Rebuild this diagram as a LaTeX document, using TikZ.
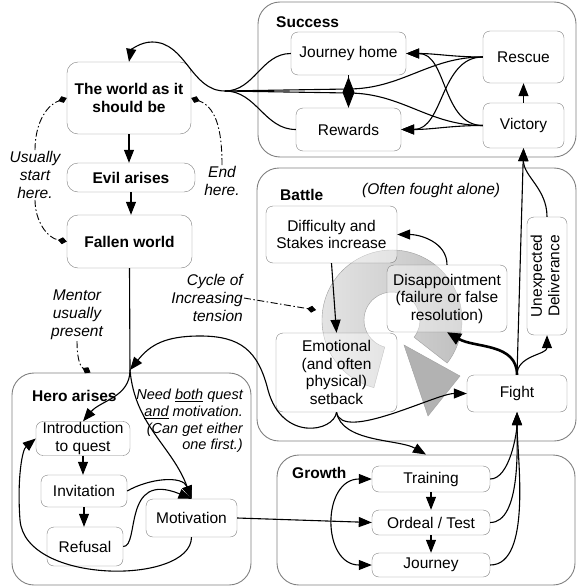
\documentclass[tikz,border=0pt]{standalone}
\usepackage{fontspec}
\setmainfont{Liberation Sans}
\usetikzlibrary{arrows.meta}

\begin{document}
\begin{tikzpicture}[x=1pt, y=1pt,
  box/.style={draw=gray, rounded corners=7pt, fill=white, fill opacity=0.4, text opacity=1, align=center, inner sep=1pt, font=\fontsize{15.5}{17.5}\selectfont},
  keybox/.style={box, rounded corners=11pt, font=\fontsize{15.5}{17.5}\selectfont\bfseries},
  group/.style={draw=gray, rounded corners=22pt, line width=0.9pt},
  grouptitle/.style={anchor=west, inner sep=0pt, font=\fontsize{15.5}{17.5}\selectfont\bfseries},
  note/.style={align=center, inner sep=1pt, font=\fontsize{15.5}{18}\selectfont\itshape},
  plain/.style={line width=1.1pt},
  link/.style={plain, -{Triangle[length=13pt,width=10pt]}},
  twoway/.style={plain, {Triangle[length=13pt,width=10pt]}-{Triangle[length=13pt,width=10pt]}},
  hint/.style={line width=0.9pt, dash pattern=on 7pt off 2.5pt on 1.5pt off 2.5pt, -{Diamond[length=9pt,width=7pt]}}
]

\useasboundingbox (0,0) rectangle (577,-586);

% Groups
\node[group, minimum width=318pt, minimum height=155pt] (success) at (417,-79.5) {};
\node[group, minimum width=319pt, minimum height=273pt] (battle) at (416.5,-304.5) {};
\node[group, minimum width=239pt, minimum height=212pt] (hero) at (131.5,-479) {};
\node[group, minimum width=298pt, minimum height=130pt] (growth) at (426,-520) {};

\node[grouptitle] (successtitle) at (276,-22) {Success};
\node[grouptitle] (battletitle) at (280,-195) {Battle};
\node[note, anchor=west, inner sep=0pt] (alone) at (362,-190) {(Often fought alone)};
\node[grouptitle] (herotitle) at (32,-396) {Hero arises};
\node[grouptitle] (growthtitle) at (292,-473) {Growth};

% Cycle arrow
\coordinate (ringc) at (392,-320);
\shade[left color=gray!20, right color=gray!50, draw=gray!75] ([shift={(255:70)}]ringc) arc[start angle=255, end angle=-38, radius=70]
  -- ([shift={(-38:28)}]ringc) arc[start angle=-38, end angle=255, radius=28] -- cycle;
\fill[gray!60, draw=gray!75] (404,-345) -- (460,-376) -- (428,-416) -- cycle;

% Top
\node[keybox, minimum width=124pt, minimum height=72pt] (world) at (129,-98) {The world as it\\should be};
\node[keybox, minimum width=128pt, minimum height=29pt] (evil) at (131,-177.5) {Evil arises};
\node[keybox, minimum width=125pt, minimum height=53pt] (fallen) at (129.5,-241.5) {Fallen world};

% Success
\node[box, minimum width=115pt, minimum height=43pt] (jhome) at (348.5,-53.5) {Journey home};
\node[box, minimum width=105pt, minimum height=43pt] (rewards) at (348.5,-129.5) {Rewards};
\node[box, minimum width=81pt, minimum height=52pt] (rescue) at (523.5,-57) {Rescue};
\node[box, minimum width=81pt, minimum height=45pt] (victory) at (523.5,-125.5) {Victory};

% Battle
\node[box, minimum width=131pt, minimum height=57pt] (difficulty) at (331.5,-234.5) {Difficulty and\\Stakes increase};
\node[box, minimum width=120pt, minimum height=67pt] (disappoint) at (447,-298.5) {Disappointment\\(failure or false\\resolution)};
\node[box, minimum width=121pt, minimum height=79pt] (setback) at (336.5,-372.5) {Emotional\\(and often\\physical)\\setback};
\node[box, minimum width=100pt, minimum height=37pt] (fight) at (517,-393.5) {Fight};
\node[box, minimum width=40pt, minimum height=118pt] (deliver) at (547,-276) {\rotatebox{90}{\begin{tabular}{@{}c@{}}Unexpected\\Deliverance\end{tabular}}};

% Hero arises
\node[box, minimum width=94pt, minimum height=33pt] (intro) at (83,-438.5) {Introduction\\to quest};
\node[box, minimum width=86pt, minimum height=32pt] (invite) at (84,-491) {Invitation};
\node[box, minimum width=76pt, minimum height=39pt] (refusal) at (85,-546.5) {Refusal};
\node[box, minimum width=91pt, minimum height=38pt] (motiv) at (191.5,-518) {Motivation};

% Growth
\node[box, minimum width=118pt, minimum height=26pt] (training) at (431,-479) {Training};
\node[box, minimum width=118pt, minimum height=25pt] (ordeal) at (431,-522.5) {Ordeal / Test};
\node[box, minimum width=118pt, minimum height=24pt] (journey) at (431,-565) {Journey};

% Notes
\node[note] (start) at (35,-175) {Usually\\start\\here.};
\node[note] (endl) at (222,-181) {End\\here.};
\node[note, align=right, anchor=east] (cycle) at (244,-298) {Cycle of\\Increasing\\tension};
\node[note] (mentor) at (77,-315) {Mentor\\usually\\present};
\node[note, align=right, anchor=east, font=\fontsize{14.5}{16.8}\selectfont\itshape] (need) at (244,-421)
  {Need \underline{both} quest\\\underline{and} motivation.\\(Can get either\\one first.)};

\coordinate (merge) at (225,-91);
\coordinate (split) at (130,-370);
\coordinate (ringpt) at (316,-310);

% Top links
\draw[link] (world.south) -- (world.south |- evil.north);
\draw[link] (evil.south) -- (evil.south |- fallen.north);
\draw[plain] (fallen.south) -- (split);

% Success links
\draw[link] (victory) -- (rescue);
\draw[link] (rescue.west) to[out=180,in=0] (jhome.east);
\draw[link] (rescue.west) to[out=180,in=0] (rewards.east);
\draw[link] (victory.west) to[out=180,in=0] (rewards.east);
\draw[link] (victory.west) to[out=180,in=0] (jhome.east);
\draw[plain] (rescue.west) to[out=180,in=0] (348,-89) -- (merge);
\draw[plain] (victory.west) to[out=180,in=0] (348,-93) -- (merge);
\draw[plain] (jhome.west) to[out=180,in=0] (merge);
\draw[plain] (rewards.west) to[out=180,in=0] (merge);
\draw[link] (merge) to[out=180,in=0] (152,-42) to[out=180,in=80] (world.north);
\draw[line width=1pt, -{Diamond[length=31pt,width=12pt]}] (jhome.south) -- (rewards.north);

% Battle links
\draw[link] (fight.north) -- (victory.south);
\draw[link] (deliver.north) to[out=90,in=-90] (victory.south);
\draw[link] (fight.north) to[out=90,in=-90] (deliver.south);
\draw[line width=2.6pt, -{Triangle[length=14pt,width=12pt]}] (fight.north) to[out=90,in=-30] (disappoint.south);
\draw[link] (disappoint.north) to[out=90,in=0] (difficulty.east);
\draw[link] (difficulty.south) -- (setback.north);
\draw[link] (setback.south) to[out=-80,in=180,looseness=0.6] (fight.west);
\draw[link] (setback.south) to[out=-80,in=150,looseness=0.8] (growth.north);
\draw[link] (setback.south) .. controls (334,-432) and (282,-442) .. (268,-390)
  .. controls (258,-350) and (240,-336) .. (200,-336) .. controls (165,-336) and (150,-345) .. (split);

% Hero links
\draw[link] (split) to[out=-90,in=50] (intro.north);
\draw[link] (split) to[out=-85,in=110] (motiv.north);
\draw[link] (intro.south) -- (intro.south |- invite.north);
\draw[link] (invite.south) -- (invite.south |- refusal.north);
\draw[link] (invite.east) to[out=30,in=110] (motiv.north);
\draw[link] (refusal.east) .. controls (140,-547) and (122,-470) .. (motiv.north);
\draw[link] (motiv.south) .. controls (191,-585) and (25,-585) .. (20,-520) .. controls (17,-480) and (22,-450) .. (intro.west);
\draw[link] (motiv.east) -- (ordeal.west);

% Growth links
\draw[link] (training) -- (ordeal);
\draw[link] (ordeal) -- (journey);
\draw[twoway] (training.west) to[out=180,in=180,looseness=1.5] (journey.west);
\draw[link] (training.east) to[out=0,in=-90,looseness=0.7] (fight.south);
\draw[link] (ordeal.east) to[out=0,in=-90,looseness=0.7] (fight.south);
\draw[link] (journey.east) to[out=0,in=-90,looseness=0.7] (fight.south);

% Notes links
\draw[hint] (start.north) to[out=90,in=200] (world.west);
\draw[hint] (start.south) to[out=-90,in=170] (fallen.west);
\draw[hint] (endl.north) to[out=90,in=-20] (world.east);
\draw[hint] (cycle.east) -- (ringpt);
\draw[hint] (mentor.south) to[out=-90,in=150] ([xshift=-41pt]hero.north);

\end{tikzpicture}
\end{document}
